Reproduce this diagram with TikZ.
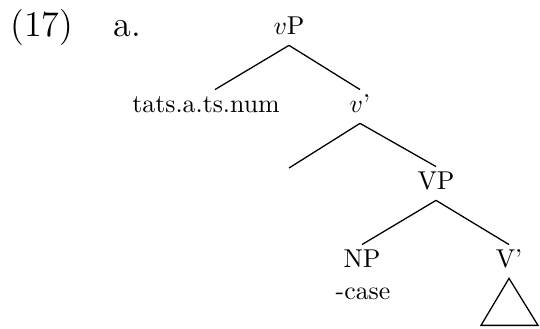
\documentclass[tikz,border=0pt]{standalone}
\begin{document}
\begin{tikzpicture}[x=0.3876pt,y=-0.3876pt,
  treelabel/.style={inner xsep=0pt,inner ysep=1.7pt,text height=6.8pt,text depth=2.5pt,anchor=base,font=\fontsize{10}{12}\selectfont},
  exlabel/.style={inner sep=0pt,anchor=base west,font=\fontsize{14}{17}\selectfont},
  branch/.style={line width=0.5pt}]
\useasboundingbox (0,0) rectangle (540,328);

% example number and sub-label
\node[exlabel] (exnum) at (10,36) {(17)};
\node[exlabel] (exsub) at (113,36) {a.};

% tree nodes
\node[treelabel] (vP)   at (289,34)  {$v$P};
\node[treelabel] (spec) at (206,112) {tats.a.ts.num};
\node[treelabel] (vbar) at (360,112) {$v$'};
\coordinate (vleft) at (289,168);
\node[treelabel] (VP)   at (436,189) {VP};
\node[treelabel] (NP)   at (362,267) {NP};
\node[treelabel] (case) at (363,299) {-case};
\node[treelabel] (Vbar) at (509,267) {V'};

% branches
\draw[branch] (vP.south) -- ([xshift=9pt*0.3876]spec.north);
\draw[branch] (vP.south) -- (vbar.north);
\draw[branch] (vbar.south) -- (vleft);
\draw[branch] (vbar.south) -- (VP.north);
\draw[branch] (VP.south) -- (NP.north);
\draw[branch] (VP.south) -- (Vbar.north);

% roof over the V' constituent
\draw[branch] (Vbar.south) -- ++(-28,47) -- ++(57,0) -- cycle;
\end{tikzpicture}
\end{document}
